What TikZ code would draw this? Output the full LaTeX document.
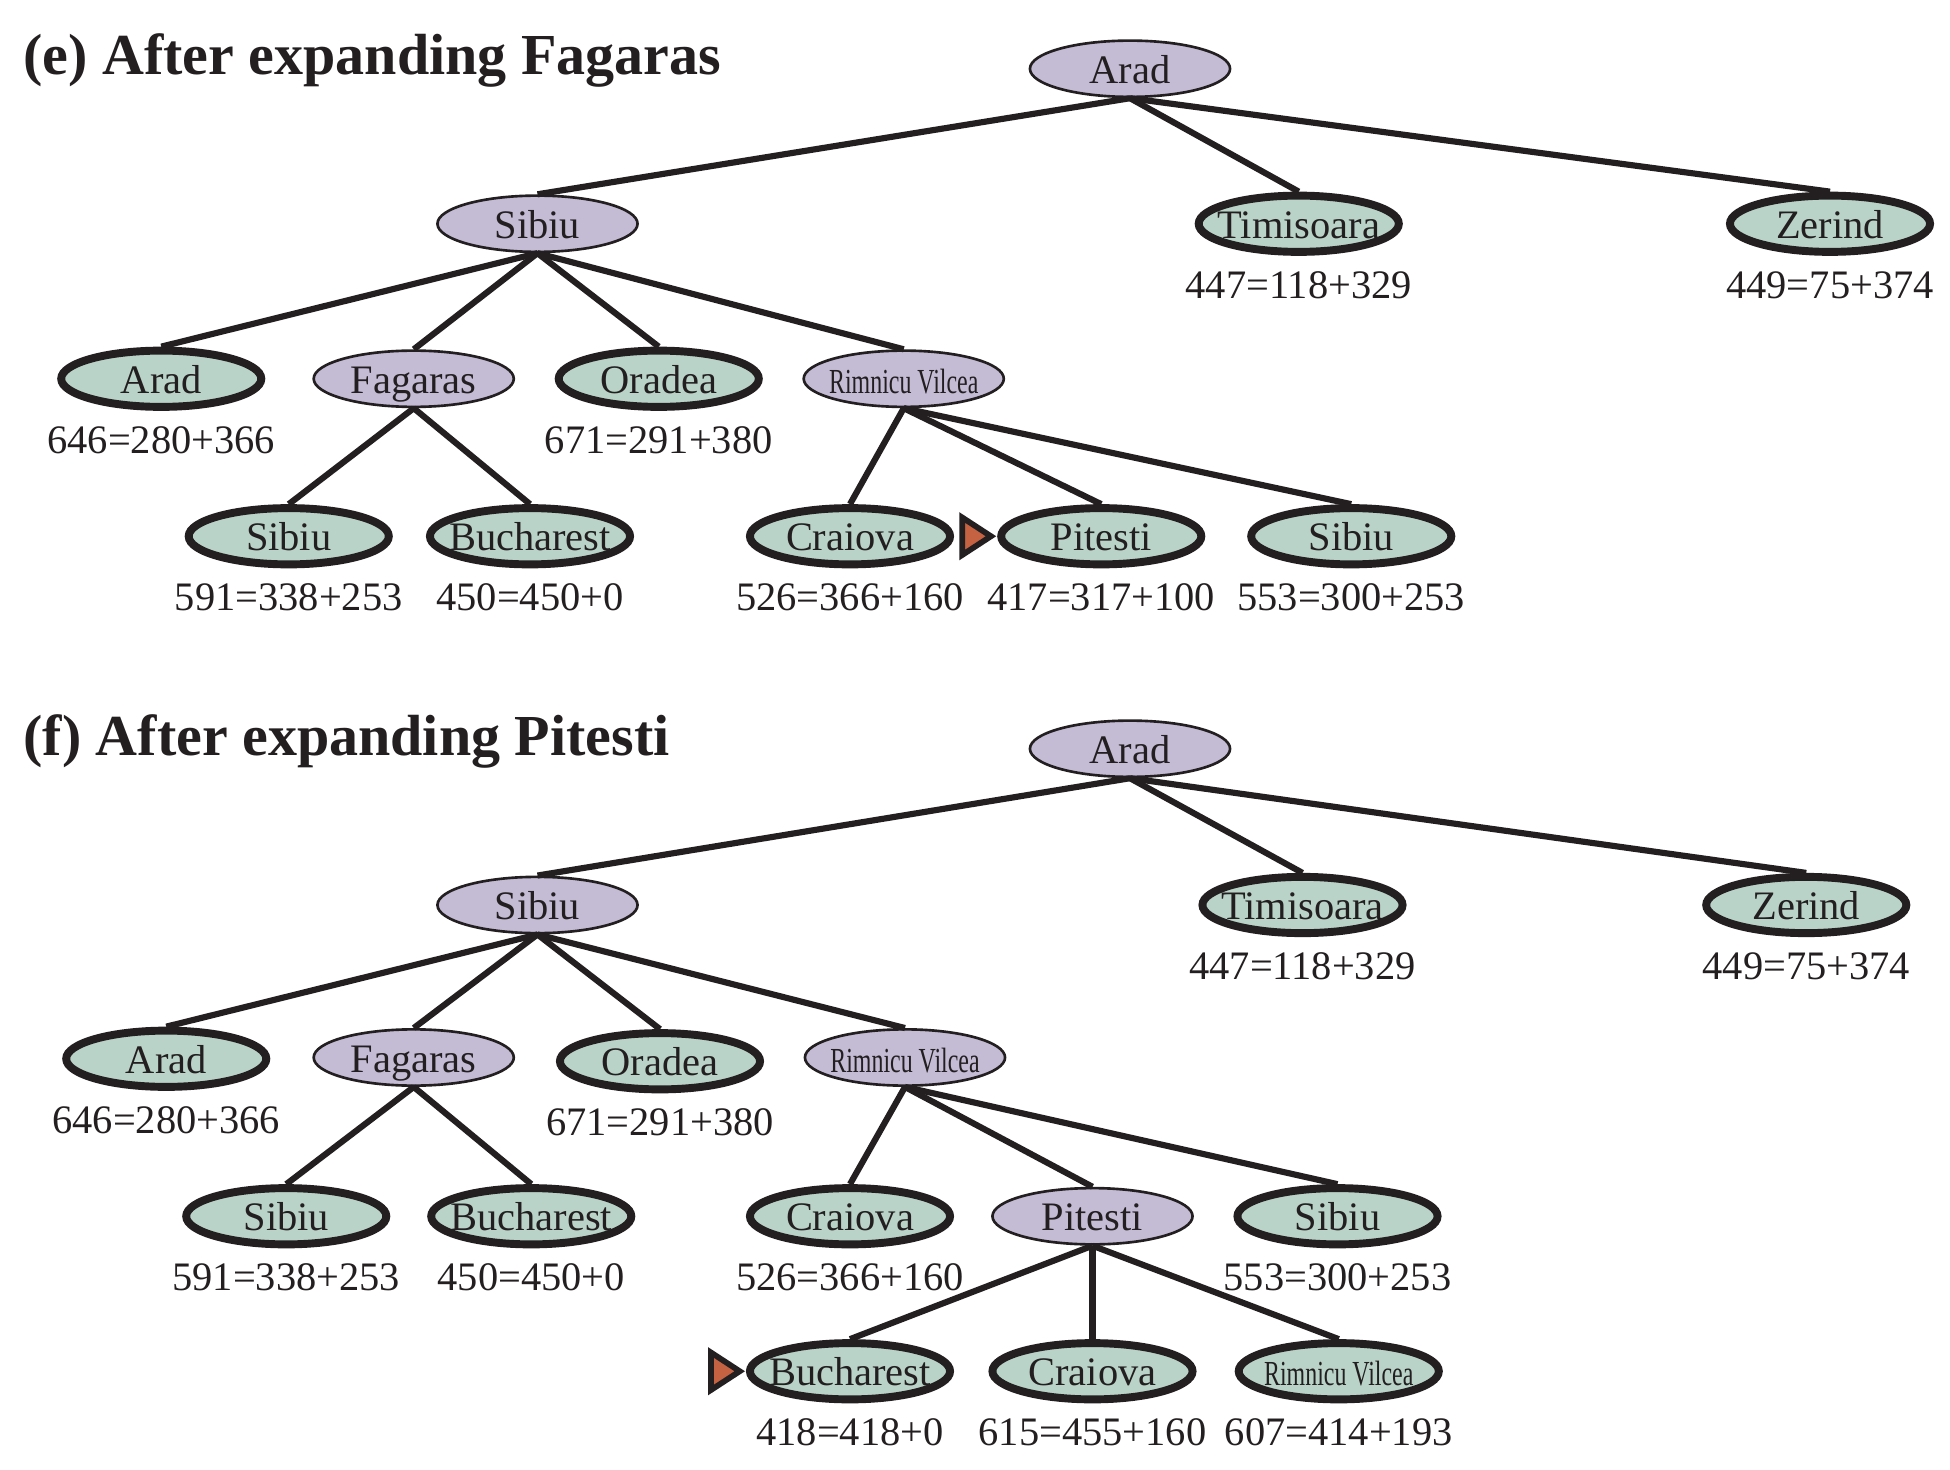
\documentclass[tikz,border=0pt]{standalone}
\usepackage{fontspec}
\setmainfont{Liberation Serif}
\newfontfamily\narrowfont[FakeStretch=0.68]{Liberation Serif}
\usetikzlibrary{shapes.geometric}
\definecolor{ink}{RGB}{35,31,32}
\definecolor{openpurple}{RGB}{196,187,213}
\definecolor{closedgreen}{RGB}{185,211,200}
\definecolor{markbrown}{RGB}{196,98,66}
\newcommand{\nodefont}{\fontsize{9.2}{11}\selectfont}
\newcommand{\rvfont}{\narrowfont\fontsize{8}{9}\selectfont}
\begin{document}
\begin{tikzpicture}[x=0.01cm, y=-0.01cm,
    every node/.style={text=ink, font=\nodefont},
    city/.style={ellipse, draw=ink, minimum width=1.6cm, minimum height=0.45cm, inner xsep=-0.15cm, inner ysep=0pt, text height=0.66em, text depth=0pt},
    open/.style={city, line width=0.6pt, fill=openpurple},
    closed/.style={city, line width=1.8pt, fill=closedgreen},
    every label/.style={font=\nodefont, text=ink, fill=none, draw=none, label distance=0cm},
    edge/.style={draw=ink, line width=1.4pt},
    marker/.style={draw=ink, fill=markbrown, line width=1.3pt, line join=miter},
    heading/.style={anchor=base west, inner sep=0pt, font=\fontsize{13.2}{15}\selectfont\bfseries}]
    \useasboundingbox (0,0) rectangle (1560,1176);

    % (e)
    \node[heading] (titleE) at (18,60) {(e) After expanding Fagaras};

    \node[open] (EA) at (904,55) {Arad};

    \node[open] (EB) at (430,179) {Sibiu};
    \node[closed, label=below:{447=118+329}] (EC) at (1039,179) {Timisoara};
    \node[closed, label=below:{449=75+374}] (ED) at (1464,179) {Zerind};

    \node[closed, label=below:{646=280+366}] (EE) at (129,303) {Arad};
    \node[open] (EF) at (331,303) {Fagaras};
    \node[closed, label=below:{671=291+380}] (EG) at (527,303) {Oradea};
    \node[open, font=\rvfont] (EH) at (723,303) {Rimnicu Vilcea};

    \node[closed, label=below:{591=338+253}] (EI) at (231,429) {Sibiu};
    \node[closed, label=below:{450=450+0}] (EJ) at (424,429) {Bucharest};
    \node[closed, label=below:{526=366+160}] (EK) at (680,429) {Craiova};
    \node[closed, label=below:{417=317+100}] (EL) at (881,429) {Pitesti};
    \node[closed, label=below:{553=300+253}] (EM) at (1081,429) {Sibiu};

    \draw[edge] (EA.south) -- (EB.north);
    \draw[edge] (EA.south) -- (EC.north);
    \draw[edge] (EA.south) -- (ED.north);
    \draw[edge] (EB.south) -- (EE.north);
    \draw[edge] (EB.south) -- (EF.north);
    \draw[edge] (EB.south) -- (EG.north);
    \draw[edge] (EB.south) -- (EH.north);
    \draw[edge] (EF.south) -- (EI.north);
    \draw[edge] (EF.south) -- (EJ.north);
    \draw[edge] (EH.south) -- (EK.north);
    \draw[edge] (EH.south) -- (EL.north);
    \draw[edge] (EH.south) -- (EM.north);

    \draw[marker] ([xshift=-0.28cm, yshift=0.15cm]EL.west) -- ([xshift=-0.05cm]EL.west) -- ([xshift=-0.28cm, yshift=-0.15cm]EL.west) -- cycle;

    % (f)
    \node[heading] (titleF) at (18,604) {(f) After expanding Pitesti};

    \node[open] (FA) at (904,599) {Arad};

    \node[open] (FB) at (430,724) {Sibiu};
    \node[closed, label=below:{447=118+329}] (FC) at (1042,724) {Timisoara};
    \node[closed, label=below:{449=75+374}] (FD) at (1445,724) {Zerind};

    \node[closed, label=below:{646=280+366}] (FE) at (133,847) {Arad};
    \node[open] (FF) at (331,846) {Fagaras};
    \node[closed, label=below:{671=291+380}] (FG) at (528,849) {Oradea};
    \node[open, font=\rvfont] (FH) at (724,846) {Rimnicu Vilcea};

    \node[closed, label=below:{591=338+253}] (FI) at (229,973) {Sibiu};
    \node[closed, label=below:{450=450+0}] (FJ) at (425,973) {Bucharest};
    \node[closed, label=below:{526=366+160}] (FK) at (680,973) {Craiova};
    \node[open] (FL) at (874,973) {Pitesti};
    \node[closed, label=below:{553=300+253}] (FM) at (1070,973) {Sibiu};

    \node[closed, label=below:{418=418+0}] (FN) at (680,1097) {Bucharest};
    \node[closed, label=below:{615=455+160}] (FO) at (874,1097) {Craiova};
    \node[closed, font=\rvfont, label=below:{607=414+193}] (FP) at (1071,1097) {Rimnicu Vilcea};

    \draw[edge] (FA.south) -- (FB.north);
    \draw[edge] (FA.south) -- (FC.north);
    \draw[edge] (FA.south) -- (FD.north);
    \draw[edge] (FB.south) -- (FE.north);
    \draw[edge] (FB.south) -- (FF.north);
    \draw[edge] (FB.south) -- (FG.north);
    \draw[edge] (FB.south) -- (FH.north);
    \draw[edge] (FF.south) -- (FI.north);
    \draw[edge] (FF.south) -- (FJ.north);
    \draw[edge] (FH.south) -- (FK.north);
    \draw[edge] (FH.south) -- (FL.north);
    \draw[edge] (FH.south) -- (FM.north);
    \draw[edge] (FL.south) -- (FN.north);
    \draw[edge] (FL.south) -- (FO.north);
    \draw[edge] (FL.south) -- (FP.north);

    \draw[marker] ([xshift=-0.28cm, yshift=0.15cm]FN.west) -- ([xshift=-0.05cm]FN.west) -- ([xshift=-0.28cm, yshift=-0.15cm]FN.west) -- cycle;
\end{tikzpicture}
\end{document}
